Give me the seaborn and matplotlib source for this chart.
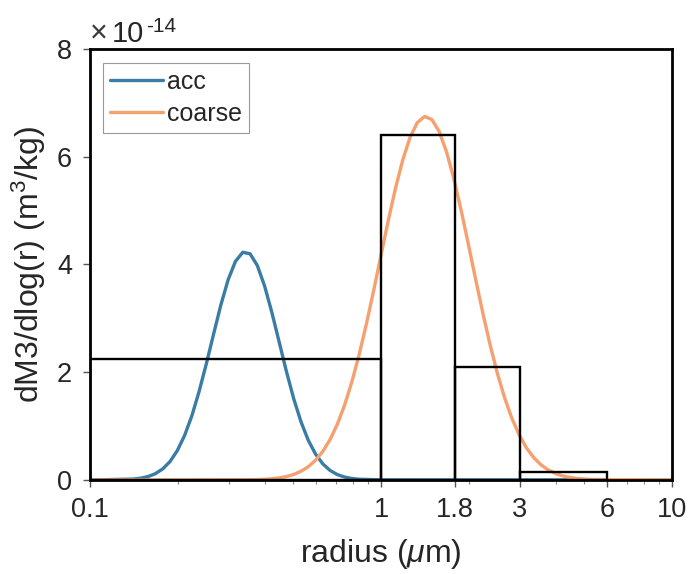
import numpy as np
import pandas as pd
import matplotlib
matplotlib.use("Agg")
import matplotlib.pyplot as plt
import seaborn as sns
from matplotlib.ticker import FixedLocator, FixedFormatter, LogLocator, NullFormatter

# ---- data (values in units of 1e-14 m^3/kg) ----
acc_radius = [0.1, 0.1413, 0.1496, 0.1585, 0.1679, 0.1778, 0.1884, 0.1995, 0.2113,
              0.2239, 0.2371, 0.2512, 0.2661, 0.2818, 0.2985, 0.3162, 0.3350,
              0.3548, 0.3758, 0.3981, 0.4217, 0.4467, 0.4732, 0.5012, 0.5309,
              0.5623, 0.5957, 0.6310, 0.6683, 0.7079, 0.7499, 0.7943, 0.8414,
              1.0, 10.0]
acc_value = [0.0, 0.017, 0.034, 0.065, 0.118, 0.206, 0.343, 0.545, 0.825,
             1.192, 1.644, 2.163, 2.716, 3.255, 3.721, 4.060, 4.227,
             4.199, 3.981, 3.601, 3.109, 2.561, 2.013, 1.509, 1.080,
             0.738, 0.481, 0.299, 0.177, 0.100, 0.054, 0.028, 0.014,
             0.002, 0.0]

coarse_radius = [0.1, 0.3548, 0.3758, 0.3981, 0.4217, 0.4467, 0.4732, 0.5012, 0.5309,
                 0.5623, 0.5957, 0.6310, 0.6683, 0.7079, 0.7499, 0.7943, 0.8414,
                 0.8913, 0.9441, 1.0, 1.0593, 1.1220, 1.1885, 1.2589, 1.3335,
                 1.4125, 1.4962, 1.5849, 1.6788, 1.7783, 1.8836, 1.9953, 2.1135,
                 2.2387, 2.3714, 2.5119, 2.6607, 2.8184, 2.9854, 3.1623, 3.3497,
                 3.5481, 3.7584, 3.9811, 4.2170, 4.4668, 4.7315, 5.0119, 5.3088,
                 10.0]
coarse_value = [0.0, 0.004, 0.0075, 0.013, 0.023, 0.039, 0.064, 0.103, 0.161,
                0.246, 0.366, 0.531, 0.751, 1.035, 1.392, 1.824, 2.330,
                2.902, 3.524, 4.172, 4.816, 5.420, 5.947, 6.362, 6.636,
                6.748, 6.690, 6.467, 6.094, 5.599, 5.016, 4.381, 3.730,
                3.096, 2.506, 1.978, 1.521, 1.141, 0.835, 0.595, 0.414,
                0.280, 0.185, 0.119, 0.075, 0.046, 0.027, 0.016, 0.009,
                0.0]

bin_edges = [0.1, 1.0, 1.8, 3.0, 6.0]
bin_values = [2.25, 6.4, 2.1, 0.15]

x_ticks = [0.1, 1, 1.8, 3, 6, 10]
x_tick_labels = ["0.1", "1", "1.8", "3", "6", "10"]
y_ticks = [0, 2, 4, 6, 8]

# ---- style ----
sns.set_style("ticks")
plt.rcParams['font.family'] = ['Liberation Sans', 'DejaVu Sans']
plt.rcParams['mathtext.fontset'] = 'custom'
plt.rcParams['mathtext.rm'] = 'Liberation Sans'
plt.rcParams['mathtext.it'] = 'Liberation Sans:italic'

text_color = '#262626'
acc_color = '#3A7CA5'
coarse_color = '#F5A06E'

fig = plt.figure(figsize=(6.94, 5.74), dpi=100)
ax = fig.add_axes([0.1297, 0.1638, 0.8386, 0.7508])

df = pd.concat([
    pd.DataFrame({"radius": acc_radius, "value": acc_value, "mode": "acc"}),
    pd.DataFrame({"radius": coarse_radius, "value": coarse_value, "mode": "coarse"}),
])
sns.lineplot(data=df, x="radius", y="value", hue="mode",
             palette={"acc": acc_color, "coarse": coarse_color},
             linewidth=2.4, ax=ax, sort=False, estimator=None)

lefts = bin_edges[:-1]
widths = [bin_edges[i + 1] - bin_edges[i] for i in range(len(bin_values))]
ax.bar(lefts, bin_values, width=widths, align='edge', fill=False,
       edgecolor='black', linewidth=1.7, zorder=3)

ax.set_xscale('log')
ax.set_xlim(0.1, 10)
ax.set_ylim(0, 8)
ax.xaxis.set_major_locator(FixedLocator(x_ticks))
ax.xaxis.set_major_formatter(FixedFormatter(x_tick_labels))
ax.xaxis.set_minor_locator(LogLocator(base=10, subs=np.arange(2, 10), numticks=20))
ax.xaxis.set_minor_formatter(NullFormatter())
ax.set_yticks(y_ticks)
ax.set_yticklabels([str(v) for v in y_ticks])

for side in ['left', 'right', 'top', 'bottom']:
    ax.spines[side].set_visible(True)
    ax.spines[side].set_linewidth(2.0)
    ax.spines[side].set_color('black')
    ax.spines[side].set_zorder(5)

ax.tick_params(axis='both', which='major', direction='out', length=5, width=1,
               color='#555555', labelsize=19.5, labelcolor=text_color)
ax.tick_params(axis='x', which='major', pad=7)
ax.tick_params(axis='y', which='major', pad=8)
ax.tick_params(axis='x', which='minor', direction='out', length=3, width=0.8,
               color='#888888')
ax.tick_params(axis='y', which='minor', left=False)

ax.set_xlabel(r"radius ($\mu$m)", fontsize=23, color=text_color)
ax.set_ylabel(r"dM3/dlog(r) (m$^3$/kg)", fontsize=23, color=text_color)
ax.xaxis.set_label_coords(0.5, -0.132)
ax.yaxis.set_label_coords(-0.072, 0.5)

ax.text(0.0, 1.0162, "\u00d7", transform=ax.transAxes,
        fontsize=22, color='#3a3a3a', ha='left', va='baseline')
ax.text(0.037, 1.0162, "10", transform=ax.transAxes,
        fontsize=21, color=text_color, ha='left', va='baseline')
ax.text(0.097, 1.0394, "-14", transform=ax.transAxes,
        fontsize=15, color=text_color, ha='left', va='baseline')

leg = ax.legend(loc='upper left', fontsize=18, frameon=True, fancybox=False,
                edgecolor='#999999', framealpha=1, borderpad=0.28,
                handlelength=2.12, handletextpad=0.18, labelspacing=0.3,
                borderaxespad=0, bbox_to_anchor=(0.022, 0.9675))
leg.get_frame().set_linewidth(0.8)
for t in leg.get_texts():
    t.set_color(text_color)

fig.savefig("out.png", dpi=100)
